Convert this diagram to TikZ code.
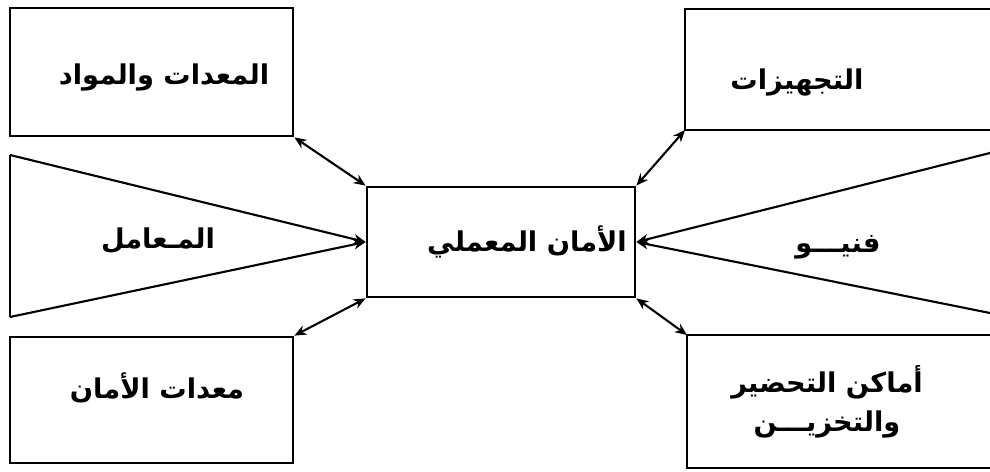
\documentclass[tikz,border=0pt]{standalone}
\usepackage{fontspec}
\usepackage{tikz}
\usetikzlibrary{positioning,arrows.meta}
\TeXXeTstate=1
\newfontfamily\arabicfont[Script=Arabic]{DejaVu Sans}
\tikzset{
  frame/.style={draw=black, line width=1.6pt},
  lbl/.style={font=\arabicfont\bfseries\fontsize{15.5}{22}\selectfont, align=center, inner sep=0pt},
  arr/.style={-{Stealth[length=2.4mm,width=2mm]}, line width=1.2pt},
  dbl/.style={{Stealth[length=2.4mm,width=2mm]}-{Stealth[length=2.4mm,width=2mm]}, line width=1.2pt},
}

\begin{document}
\begin{tikzpicture}[x=0.02cm,y=-0.02cm]
  \useasboundingbox (0,0) rectangle (990,472);

  % left side
  \node[frame, minimum width=5.66cm, minimum height=2.56cm] (equip) at (151.5,72) {};
  \node[frame, minimum width=5.66cm, minimum height=2.52cm] (safety) at (151.5,400) {};
  \coordinate (labtop) at (10,155);
  \coordinate (labbot) at (10,317);

  % centre
  \node[frame, minimum width=5.36cm, minimum height=2.2cm] (lab) at (501,242) {};

  % right side, open towards the edge
  \draw[frame] (990,9) -| (685,130) coordinate (install) -- (990,130);
  \draw[frame] (990,468) -| (687,335) coordinate (storage) -- (990,335);
  \coordinate (techtop) at (990,153);
  \coordinate (techbot) at (990,313);

  % labels
  \node[lbl] (tequip) at (164,77) {\beginR المعدات والمواد\endR};
  \node[lbl] (tlabs) at (158,241) {\beginR المـعامل\endR};
  \node[lbl] (tsafety) at (157,388) {\beginR معدات الأمان\endR};
  \node[lbl] (tlab) at (527,242) {\beginR الأمان المعملي\endR};
  \node[lbl] (tinstall) at (797,82) {\beginR التجهيزات\endR};
  \node[lbl] (ttech) at (838,247) {\beginR فنيـــو\endR};
  \node[lbl] (tstorage) at (827,402) {\beginR أماكن التحضير\endR\\\beginR والتخزيـــن\endR};

  % connectors
  \draw[frame] (labtop) -- (labbot);
  \draw[arr] (labtop) -- (lab.west);
  \draw[arr] (labbot) -- (lab.west);
  \draw[arr] (techtop) -- (lab.east);
  \draw[arr] (techbot) -- (lab.east);
  \draw[dbl] (equip.south east) -- (lab.north west);
  \draw[dbl] (safety.north east) -- (lab.south west);
  \draw[dbl] (install) -- (lab.north east);
  \draw[dbl] (storage) -- (lab.south east);
\end{tikzpicture}
\end{document}
